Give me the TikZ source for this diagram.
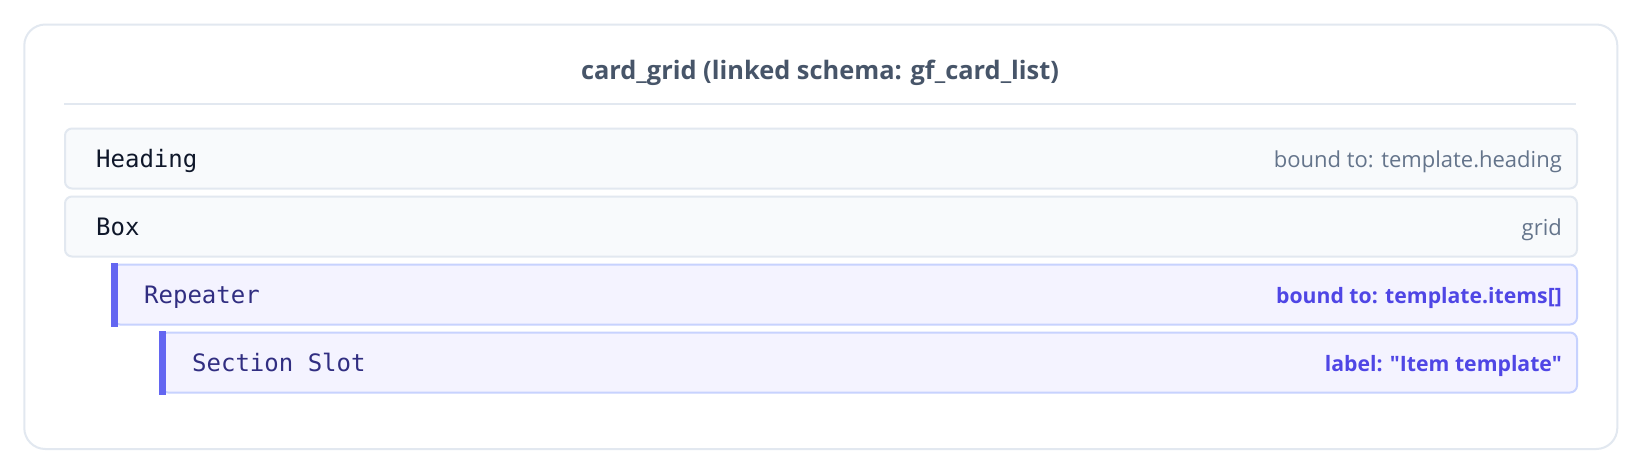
\documentclass[tikz,border=0pt]{standalone}
\usepackage{fontspec}
\setsansfont{Open Sans}[Ligatures=TeXOff]
\setmonofont{DejaVu Sans Mono}
\newcommand{\semib}{\sffamily\bfseries}
\usetikzlibrary{calc}
\definecolor{cardborder}{HTML}{E2E8F0}
\definecolor{rowfill}{HTML}{F8FAFC}
\definecolor{titlecol}{HTML}{475569}
\definecolor{graylab}{HTML}{64748B}
\definecolor{darktext}{HTML}{0F172A}
\definecolor{indfill}{HTML}{F4F3FF}
\definecolor{indborder}{HTML}{C7D2FE}
\definecolor{indbar}{HTML}{6366F1}
\definecolor{indtext}{HTML}{312E81}
\definecolor{indlab}{HTML}{4F46E5}
\tikzset{
  card/.style={draw=cardborder, line width=2pt, fill=white, rounded corners=21pt, inner sep=0pt},
  titletext/.style={font=\semib\fontsize{25.4}{30}\selectfont, text=titlecol, inner sep=0pt},
  seprule/.style={draw=cardborder, line width=2pt},
  grayrow/.style={draw=cardborder, line width=2pt, fill=rowfill, rounded corners=7pt, minimum height=60pt, inner sep=0pt, anchor=north west},
  indrow/.style={draw=indborder, line width=2pt, fill=indfill, rounded corners=7pt, minimum height=60pt, inner sep=0pt, anchor=north west},
  bar/.style={fill=indbar, draw=none},
  monogray/.style={font=\ttfamily\fontsize{24}{28}\selectfont, text=darktext, inner sep=0pt, anchor=base west},
  monoind/.style={font=\ttfamily\fontsize{24}{28}\selectfont, text=indtext, inner sep=0pt, anchor=base west},
  labgray/.style={font=\sffamily\fontsize{22}{26}\selectfont, text=graylab, inner sep=0pt, anchor=base east},
  labind/.style={font=\semib\fontsize{21.2}{26}\selectfont, text=indlab, inner sep=0pt, anchor=base east},
}
\begin{document}
\begin{tikzpicture}[x=1pt,y=-1pt]
\useasboundingbox (0,0) rectangle (1640,472);
\fill[white] (0,0) rectangle (1640,472);
\node[card, minimum width=1593pt, minimum height=424.5pt, anchor=north west] (card) at (23.3,23.5) {};
\node[titletext] (title) at (820,73) {card\_grid (linked schema: gf\_card\_list)};
\coordinate (sepL) at (64,104);
\coordinate (sepR) at (1576,104);
\draw[seprule] (sepL) -- (sepR);
% rows
\node[grayrow, minimum width=1512pt] (heading) at (64,127.5) {};
\node[grayrow, minimum width=1512pt] (box) at (64,195.5) {};
\node[indrow, minimum width=1464pt] (repeater) at (112,263.5) {};
\node[indrow, minimum width=1416pt] (slot) at (160,331.5) {};
\fill[bar] ([xshift=-1pt,yshift=1pt]repeater.north west) rectangle ([xshift=6pt,yshift=-1pt]repeater.south west);
\fill[bar] ([xshift=-1pt,yshift=1pt]slot.north west) rectangle ([xshift=6pt,yshift=-1pt]slot.south west);
% texts
\node[monogray] (headingT) at ([xshift=32pt,yshift=-8.5pt]heading.west) {Heading};
\node[labgray] (headingL) at ([xshift=-16pt,yshift=-8.5pt]heading.east) {bound to: template.heading};
\node[monogray] (boxT) at ([xshift=32pt,yshift=-8.5pt]box.west) {Box};
\node[labgray] (boxL) at ([xshift=-16pt,yshift=-8.5pt]box.east) {grid};
\node[monoind] (repeaterT) at ([xshift=32pt,yshift=-8.5pt]repeater.west) {Repeater};
\node[labind] (repeaterL) at ([xshift=-16pt,yshift=-8.5pt]repeater.east) {bound to: template.items[]};
\node[monoind] (slotT) at ([xshift=32pt,yshift=-8.5pt]slot.west) {Section Slot};
\node[labind] (slotL) at ([xshift=-16pt,yshift=-8.5pt]slot.east) {label: "Item template"};
\end{tikzpicture}
\end{document}
